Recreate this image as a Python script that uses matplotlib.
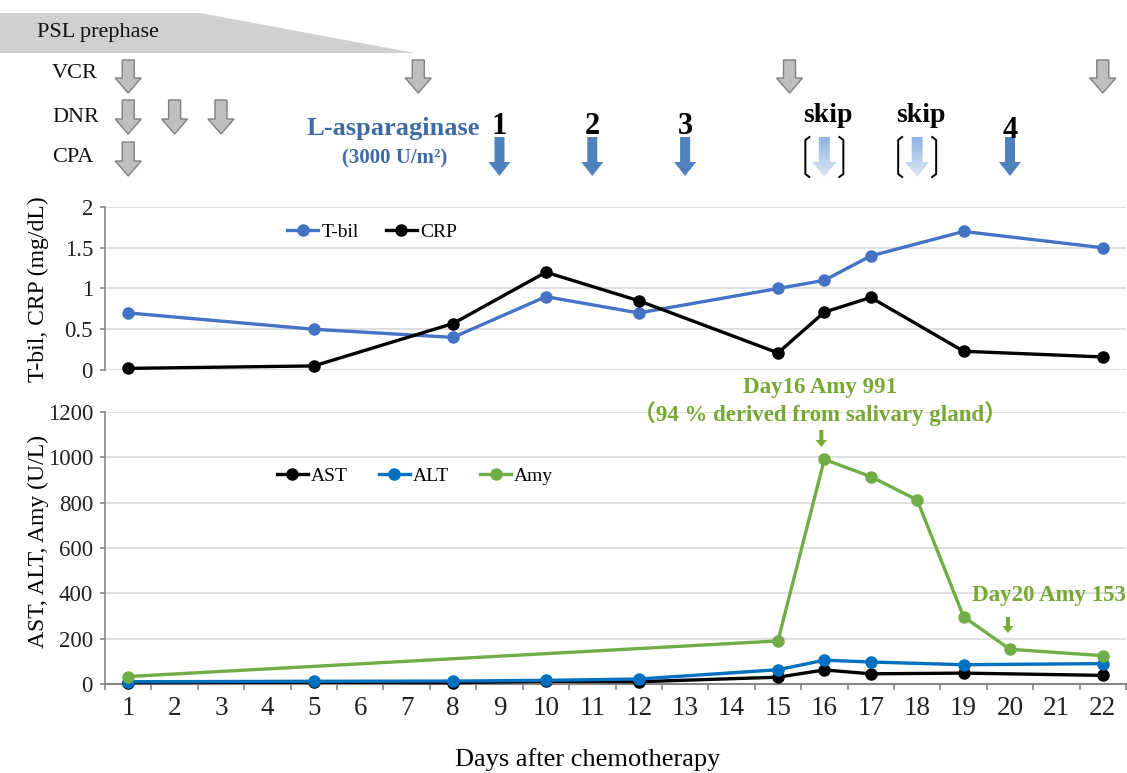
import matplotlib
matplotlib.use('Agg')
import matplotlib.pyplot as plt
import numpy as np
from matplotlib.patches import Polygon
from matplotlib.lines import Line2D
from matplotlib.colors import LinearSegmentedColormap

plt.rcParams['font.family'] = ['Liberation Serif', 'Noto Sans CJK JP', 'DejaVu Sans']

# ---------------- data ----------------
day_labels = [str(i) for i in range(1, 23)]
lab_days = [1, 5, 8, 10, 12, 15, 16, 17, 19, 22]
tbil = [0.70, 0.50, 0.40, 0.90, 0.70, 1.00, 1.10, 1.40, 1.70, 1.50]
crp = [0.02, 0.05, 0.57, 1.20, 0.85, 0.21, 0.71, 0.89, 0.23, 0.16]
ast = [6, 8, 6, 12, 10, 30, 62, 45, 48, 38]
alt = [10, 12, 13, 16, 22, 63, 105, 97, 85, 90]
amy_days = [1, 15, 16, 17, 18, 19, 20, 22]
amy = [33, 190, 991, 915, 812, 297, 153, 125]

top_yticks = [0, 0.5, 1, 1.5, 2]
top_yticklabels = ['0', '0.5', '1', '1.5', '2']
bot_yticks = [0, 200, 400, 600, 800, 1000, 1200]

# schedule (positions along the day axis, as drawn)
vcr_days = [1, 7.25, 15.25, 22]
dnr_days = [1, 2, 3]
cpa_days = [1]
lasp_days = [9, 11, 13, 20]
lasp_labels = ['1', '2', '3', '4']
skip_days = [16, 18]

# ---------------- figure ----------------
W, H = 1127, 773
fig = plt.figure(figsize=(W / 100, H / 100), dpi=100)

def frac_rect(x0, y0, x1, y1):
    return [x0 / W, 1 - y1 / H, (x1 - x0) / W, (y1 - y0) / H]

ax1 = fig.add_axes(frac_rect(105, 207, 1126, 370))
ax2 = fig.add_axes(frac_rect(105, 412, 1126, 684))

grid_c = '#d9d9d9'
spine_c = '#868686'
PT = 72 / 100  # px -> pt

for ax in (ax1, ax2):
    ax.set_xlim(0.5, 22.5)
    for s in ('top', 'right'):
        ax.spines[s].set_visible(False)
    ax.spines['left'].set_color(spine_c)
    ax.spines['left'].set_linewidth(1.2)
    ax.yaxis.grid(True, color=grid_c, lw=1.2)
    ax.set_axisbelow(True)
    ax.tick_params(axis='y', colors=spine_c, length=5 * PT, width=1.2,
                   labelcolor='#222222', labelsize=16.5, pad=7 * PT)

# top panel
ax1.spines['bottom'].set_visible(False)
ax1.set_ylim(0, 2)
ax1.set_yticks(top_yticks)
ax1.set_yticklabels(top_yticklabels)
ax1.set_xticks([])
ax1.plot(lab_days, tbil, '-o', color='#4472C4', lw=2.4, ms=8, label='T-bil', clip_on=False, zorder=3)
ax1.plot(lab_days, crp, '-o', color='black', lw=2.4, ms=8, label='CRP', clip_on=False, zorder=3)
leg1 = ax1.legend(loc='center', bbox_to_anchor=((372 - 105) / 1021, (370 - 232) / 163),
                  ncol=2, frameon=False, fontsize=14, handlelength=1.6,
                  handletextpad=0.15, columnspacing=1.4)

# bottom panel
ax2.set_ylim(0, 1200)
ax2.set_yticks(bot_yticks)
ax2.spines['bottom'].set_color(spine_c)
ax2.spines['bottom'].set_linewidth(1.5)
ax2.set_xticks(range(1, 23))
ax2.set_xticklabels(day_labels)
ax2.set_xticks(np.arange(0.5, 23, 1), minor=True)
ax2.tick_params(axis='x', which='major', length=0, labelsize=19.5, pad=12 * PT, labelcolor='#222222')
ax2.tick_params(axis='x', which='minor', length=6 * PT, width=1.2, colors=spine_c)
ax2.plot(lab_days, ast, '-o', color='black', lw=2.4, ms=8, label='AST', clip_on=False, zorder=3)
ax2.plot(lab_days, alt, '-o', color='#0070C0', lw=2.4, ms=8, label='ALT', clip_on=False, zorder=3)
ax2.plot(amy_days, amy, '-o', color='#70AD47', lw=2.4, ms=8, label='Amy', clip_on=False, zorder=3)
leg2 = ax2.legend(loc='center', bbox_to_anchor=((415 - 105) / 1021, (684 - 476) / 272),
                  ncol=3, frameon=False, fontsize=14, handlelength=1.6,
                  handletextpad=0.15, columnspacing=1.6)

# ---------------- overlay in pixel coordinates ----------------
ov = fig.add_axes([0, 0, 1, 1], zorder=5)
ov.set_xlim(0, W)
ov.set_ylim(H, 0)
ov.axis('off')
ov.patch.set_visible(False)

def dx(d):
    disp = ax2.transData.transform((d, 0))
    return ov.transData.inverted().transform(disp)[0]

def block_arrow(xc, top, tip, sw, hw, hh, fc, ec='none', lw=0):
    pts = [(xc - sw / 2, top), (xc + sw / 2, top), (xc + sw / 2, tip - hh),
           (xc + hw / 2, tip - hh), (xc, tip), (xc - hw / 2, tip - hh),
           (xc - sw / 2, tip - hh)]
    p = Polygon(pts, closed=True, fc=fc, ec=ec, lw=lw, joinstyle='miter')
    ov.add_patch(p)
    return p

# PSL prephase band
ov.add_patch(Polygon([(0, 13), (200, 13), (415, 53), (0, 53)], closed=True,
                     fc='#d0d0d0', ec='none'))
ov.text(37, 33, 'PSL prephase', fontsize=16, va='center', ha='left', color='#111111')

# drug rows
rows = [('VCR', vcr_days, 73, 60, 93), ('DNR', dnr_days, 117, 100, 134), ('CPA', cpa_days, 157, 142, 176)]
for name, dlist, ty, top, tip in rows:
    ov.text(52, ty, name, fontsize=16, va='center', ha='left', color='#111111')
    for d in dlist:
        block_arrow(dx(d), top, tip, 12, 26, 15, '#bfbfbf', '#7f7f7f', 1.0)

# L-asparaginase
lasp_c = '#3E6AA6'
ov.text(393, 128, 'L-asparaginase', fontsize=19, fontweight='bold', color=lasp_c,
        ha='center', va='center')
ov.text(395, 158, '(3000 U/m²)', fontsize=15, fontweight='bold', color=lasp_c,
        ha='center', va='center')
for d, lab in zip(lasp_days, lasp_labels):
    x = dx(d)
    yoff = 4 if lab == '4' else 0
    ov.text(x, 126 + yoff, lab, fontsize=22, fontweight='bold', ha='center', va='center')
    block_arrow(x, 137, 176, 10, 22, 14, '#4F81BD')

# skipped doses
cmap = LinearSegmentedColormap.from_list('sk', ['#8DB4E2', '#DDE8F5'])
grad = np.linspace(0, 1, 100).reshape(-1, 1)
for d in skip_days:
    x = dx(d)
    ov.text(x + 4, 115, 'skip', fontsize=20, fontweight='bold', ha='center', va='center')
    p = block_arrow(x, 137, 177, 11, 24, 15, 'none')
    im = ov.imshow(grad, extent=(x - 13, x + 13, 177, 137), cmap=cmap, aspect='auto', zorder=2)
    im.set_clip_path(p)
    for sgn in (-1, 1):
        ov.add_line(Line2D([x + sgn * 15, x + sgn * 19, x + sgn * 19, x + sgn * 15],
                           [137, 140, 174, 177], color='black', lw=1.4))
ov.set_xlim(0, W)
ov.set_ylim(H, 0)

# amylase annotations
g = '#76A832'
ov.text(dx(16) - 4, 388, 'Day16 Amy 991', fontsize=16.5, fontweight='bold', color=g,
        ha='center', va='center')
ov.text(dx(16) - 4, 414, '（94 % derived from salivary gland）', fontsize=16.5, fontweight='bold',
        color=g, ha='center', va='center')
block_arrow(dx(16) - 3, 430, 447, 4, 11, 7, g)
ov.text(972, 596, 'Day20 Amy 153', fontsize=16.5, fontweight='bold', color=g,
        ha='left', va='center')
block_arrow(dx(20) - 2, 617, 633, 4, 11, 7, g)

# axis titles
ov.text(38, 289, 'T-bil, CRP (mg/dL)', fontsize=17, rotation=90, ha='center', va='center')
ov.text(38, 542, 'AST, ALT, Amy (U/L)', fontsize=17, rotation=90, ha='center', va='center')
ov.text(588, 760, 'Days after chemotherapy', fontsize=19, ha='center', va='center')

fig.savefig('out.png', dpi=100)
